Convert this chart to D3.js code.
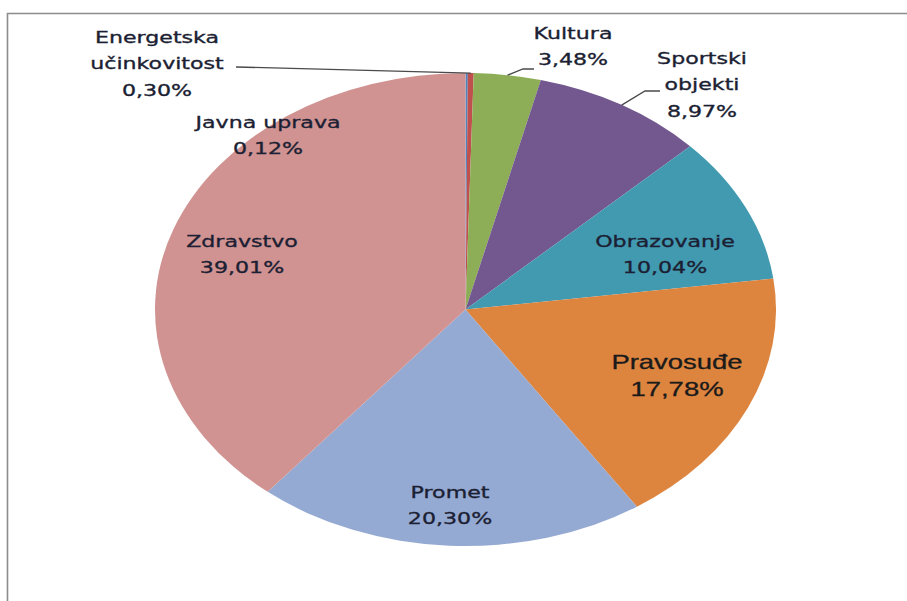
<!DOCTYPE html>
<html>
<head>
<meta charset="utf-8">
<script src="https://cdn.jsdelivr.net/npm/d3@7"></script>
<style>
    body { margin: 0; background: #fff; }
    .lbl { font-family: "DejaVu Sans", Verdana, sans-serif; font-size: 16.5px; fill: #1c1f33; stroke: #1c1f33; stroke-width: 0.35; }
    .lbl-big { font-family: "Liberation Sans", Arial, sans-serif; font-size: 20.5px; fill: #1a1a1a; stroke: #1a1a1a; stroke-width: 0.3; }
    .leader { stroke: #4a4a4a; stroke-width: 1.3; fill: none; }
</style>
</head>
<body>
<script>
// data, clockwise from 12 o'clock
const categories = ["Javna uprava", "Energetska učinkovitost", "Kultura", "Sportski objekti",
    "Obrazovanje", "Pravosuđe", "Promet", "Zdravstvo"]
const values = [0.12, 0.30, 3.48, 8.97, 10.04, 17.78, 20.30, 39.01]
const labelText = ["0,12%", "0,30%", "3,48%", "8,97%", "10,04%", "17,78%", "20,30%", "39,01%"]
const labelLines = [
    ["Javna uprava"],
    ["Energetska", "učinkovitost"],
    ["Kultura"],
    ["Sportski", "objekti"],
    ["Obrazovanje"],
    ["Pravosuđe"],
    ["Promet"],
    ["Zdravstvo"]
]
const colors = ["#4f81bd", "#c0504d", "#8dae56", "#72588f", "#429ab1", "#dd843f", "#95aad2", "#d09392"]

const WIDTH = 907
const HEIGHT = 601
const CX = 465.5
const CY = 309.5
const RX = 310.5
const RY = 236.5
const STRETCH = 1.34   // the whole picture is stretched sideways

// label layout (centre of first line, relative to page)
const labelPos = [
    { x: 268, y: 122 },
    { x: 157, y: 37 },
    { x: 573, y: 33 },
    { x: 702, y: 58 },
    { x: 665, y: 241 },
    { x: 677, y: 362 },
    { x: 450, y: 492 },
    { x: 242, y: 241 }
]
const LINE_H = 26.5

const svg = d3.select("body")
    .append("svg")
    .attr("width", WIDTH)
    .attr("height", HEIGHT)

// frame
svg.append("path")
    .attr("d", "M7.5," + HEIGHT + " V13.5 H" + WIDTH)
    .attr("fill", "none")
    .attr("stroke", "#8c8c8c")
    .attr("stroke-width", 1.6)

const pie = d3.pie().sort(null).value(d => d)
const arcs = pie(values)
const arc = d3.arc().innerRadius(0).outerRadius(RY)

const pieG = svg.append("g")
    .attr("transform", "translate(" + CX + "," + CY + ") scale(" + (RX / RY) + ",1)")

pieG.selectAll("path")
    .data(arcs)
    .enter()
    .append("path")
    .attr("d", arc)
    .attr("fill", (d, i) => colors[i])

// point on ellipse edge for a given angle
function edge(a, k) {
    return [CX + RX * k * Math.sin(a), CY - RY * k * Math.cos(a)]
}

// leader lines for small outside slices
const leaders = [
    { i: 1, to: [[236, 67]] },
    { i: 2, to: [[523, 69], [534, 69]] },
    { i: 3, to: [[645, 91], [660, 91]] }
]
leaders.forEach(l => {
    const a = (arcs[l.i].startAngle + arcs[l.i].endAngle) / 2
    const pts = [edge(a, 1)].concat(l.to)
    svg.append("path")
        .attr("class", "leader")
        .attr("d", d3.line()(pts))
})

// labels
arcs.forEach((d, i) => {
    const lines = labelLines[i].concat([labelText[i]])
    const big = i === 5
    const t = svg.append("text")
        .attr("class", big ? "lbl-big" : "lbl")
        .attr("text-anchor", "middle")
        .attr("transform", "translate(" + labelPos[i].x + "," + labelPos[i].y + ") scale(" + STRETCH + ",1)")
    lines.forEach((s, j) => {
        t.append("tspan")
            .attr("x", 0)
            .attr("y", j * LINE_H)
            .attr("dy", "0.35em")
            .text(s)
    })
})
</script>
</body>
</html>
